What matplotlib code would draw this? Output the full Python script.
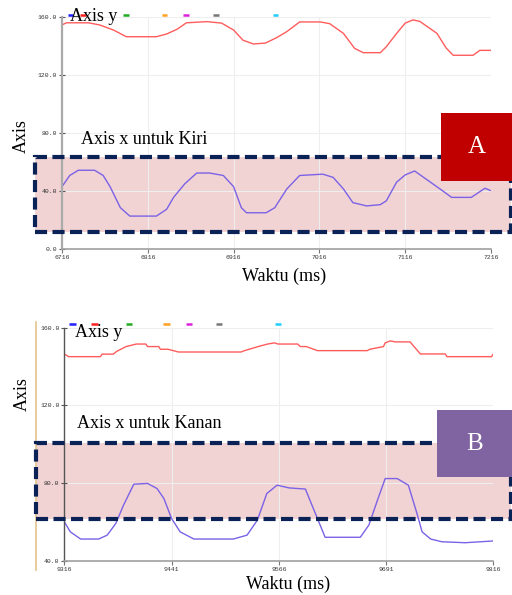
import matplotlib
matplotlib.use("Agg")
import matplotlib.pyplot as plt
from matplotlib.patches import Rectangle
from matplotlib.lines import Line2D

# ---------------- data ----------------
# Chart A (Kiri)
a_y_time = [6716, 6721, 6747, 6760, 6776, 6791, 6826, 6838, 6850, 6861, 6885, 6902, 6916,
            6927, 6939, 6953, 6966, 6978, 6993, 7017, 7028, 7044, 7057, 7067, 7087, 7094,
            7106, 7116, 7125, 7133, 7153, 7164, 7172, 7195, 7203, 7216]
a_y_val = [154.5, 156, 156, 154.5, 151, 146.4, 146.4, 148.3, 151.5, 156, 156.8, 155.8, 151,
           144, 141.4, 142, 145.7, 149.9, 156.6, 156.6, 155.4, 148.7, 138.4, 135.4, 135.4, 139.5,
           148.7, 155.8, 158, 157, 148.7, 138.4, 133.6, 133.6, 137, 137]
a_x_time = [6716, 6725, 6735, 6754, 6764, 6772, 6784, 6795, 6826, 6838, 6846, 6859, 6873, 6888,
            6904, 6916, 6925, 6931, 6954, 6964, 6978, 6993, 7020, 7032, 7044, 7055, 7071, 7087,
            7094, 7106, 7116, 7127, 7148, 7159, 7170, 7193, 7209, 7215]
a_x_val = [43, 50.7, 54.3, 54.3, 50.7, 43, 28.5, 22.7, 22.7, 27.4, 35.6, 44.9, 52.4, 52.4,
           50.7, 43, 28.5, 25, 25, 28.5, 41.4, 50.7, 51.6, 49.4, 41.4, 32, 29.7, 30.6,
           33.2, 46.1, 51.1, 53.8, 45, 40.4, 35.6, 35.6, 41.9, 40.4]
a_xticks = [6716, 6816, 6916, 7016, 7116, 7216]
a_yticks = [0, 40, 80, 120, 160]

# Chart B (Kanan)
b_y_time = [9316, 9321, 9358, 9360, 9373, 9377, 9388, 9400, 9411, 9413, 9426, 9428, 9437, 9449,
            9522, 9526, 9542, 9553, 9561, 9565, 9588, 9591, 9598, 9611, 9669, 9672, 9688,
            9690, 9696, 9702, 9719, 9731, 9760, 9762, 9814, 9816]
b_y_val = [146.5, 145.1, 145.1, 146.4, 146.4, 147.8, 150.3, 151.6, 151.6, 150.3, 150.3, 148.9,
           148.9, 147.5, 147.5, 148.2, 150.3, 151.6, 152.2, 151.6, 151.6, 150.3, 150.3, 148.2,
           148.2, 148.9, 150.3, 152.2, 153.2, 152.7, 152.7, 146.5, 146.5, 145.1, 145.1, 146.5]
b_x_time = [9316, 9323, 9335, 9356, 9366, 9376, 9385, 9397, 9413, 9424, 9432, 9441, 9451, 9467,
            9513, 9529, 9541, 9552, 9564, 9578, 9597, 9607, 9620, 9661, 9671, 9681, 9690,
            9704, 9717, 9727, 9733, 9743, 9756, 9783, 9816]
b_x_val = [60.2, 55, 51.3, 51.3, 53.3, 59.3, 68.7, 79.5, 79.9, 77.3, 72.2, 61.9, 55, 51.3,
           51.3, 53.3, 61, 74.7, 79, 77.6, 77, 66.2, 52.2, 52.2, 58.5, 71.3, 82.4,
           82.4, 79, 64.5, 55, 51.3, 49.9, 49.4, 50.3]
b_xticks = [9316, 9441, 9566, 9691, 9816]
b_yticks = [40, 80, 120, 160]

legend_colors = ["#1f1fff", "#ff2020", "#22aa22", "#ffa020", "#dd22dd", "#777777", "#22ccff"]

# ---------------- layout helpers ----------------
W, H = 512, 595
fig = plt.figure(figsize=(W / 100, H / 100), dpi=100)
fig.patch.set_facecolor("white")


def fx(x):
    return x / W


def fy(y):
    return 1 - y / H


SERIF = ["Liberation Serif", "DejaVu Serif"]
MONO = ["Liberation Mono", "DejaVu Sans Mono"]
RED = "#ff5c5c"
PURPLE = "#7b62e6"
NAVY = "#0b2257"
PINK = "#f1d3d3"


def make_axes(left, right, top, bottom, xlim, ylim, xticks, yticks, lspine_color, lspine_w):
    ax = fig.add_axes([fx(left), fy(bottom), (right - left) / W, (bottom - top) / H])
    ax.set_facecolor("none")
    ax.set_xlim(*xlim)
    ax.set_ylim(*ylim)
    ax.set_xticks(xticks)
    ax.set_yticks(yticks)
    ax.set_xticklabels([str(t) for t in xticks], fontfamily=MONO, fontsize=4.6, color="#333333")
    ax.set_yticklabels([f"{t:.1f}" for t in yticks], fontfamily=MONO, fontsize=4.6, color="#333333")
    ax.tick_params(axis="x", length=3, width=0.8, color="#777777", pad=1.5)
    ax.tick_params(axis="y", length=4, width=0.8, color="#555555", pad=1.5, direction="inout")
    ax.grid(True, color="#eeeeee", linewidth=0.8)
    ax.set_axisbelow(True)
    for s in ["top", "right"]:
        ax.spines[s].set_visible(False)
    ax.spines["left"].set_color(lspine_color)
    ax.spines["left"].set_linewidth(lspine_w)
    ax.spines["bottom"].set_color("#a0a0a0")
    ax.spines["bottom"].set_linewidth(1.2)
    return ax


def add_box(x0, y0, x1, y1):
    fill = Rectangle((fx(x0), fy(y1)), (x1 - x0) / W, (y1 - y0) / H, transform=fig.transFigure,
                     facecolor=PINK, edgecolor="none", zorder=-1)
    fig.add_artist(fill)
    border = Rectangle((fx(x0), fy(y1)), (x1 - x0) / W, (y1 - y0) / H, transform=fig.transFigure,
                       facecolor="none", edgecolor=NAVY, linewidth=3, linestyle=(0, (2.9, 1.3)),
                       zorder=5)
    fig.add_artist(border)


def add_label_box(x0, y0, x1, y1, color, letter):
    r = Rectangle((fx(x0), fy(y1)), (x1 - x0) / W, (y1 - y0) / H, transform=fig.transFigure,
                  facecolor=color, edgecolor="none", zorder=6)
    fig.add_artist(r)
    fig.text(fx((x0 + x1) / 2), fy((y0 + y1) / 2), letter, color="white", fontsize=18,
             fontfamily=SERIF, ha="center", va="center", zorder=7)


def add_legend_marks(y, xs):
    for (x0, x1), c in zip(xs, legend_colors):
        fig.add_artist(Line2D([fx(x0), fx(x1)], [fy(y), fy(y)], transform=fig.transFigure,
                              color=c, linewidth=1.8, solid_capstyle="butt", zorder=3))


def ftext(x, y, s, **kw):
    kw.setdefault("fontsize", 13)
    kw.setdefault("fontfamily", SERIF)
    kw.setdefault("color", "black")
    fig.text(fx(x), fy(y), s, zorder=8, **kw)


# ---------------- chart A ----------------
add_box(35, 157, 510.5, 232)
axA = make_axes(62, 491, 17, 249, (6716, 7216), (0, 160), a_xticks, a_yticks, "#aaaaaa", 1.6)
axA.plot(a_y_time, a_y_val, color=RED, linewidth=1.0)
axA.plot(a_x_time, a_x_val, color=PURPLE, linewidth=1.0)
add_legend_marks(14.5, [(68, 73), (80, 86), (123, 129), (162, 167), (183, 189), (213, 219), (273, 278)])
ftext(70, 21, "Axis y", va="baseline")
ftext(81, 144, "Axis x untuk Kiri", va="baseline")
ftext(21, 136, "Axis", rotation=90, ha="center", va="center")
ftext(284, 276, "Waktu (ms)", ha="center", va="center")
add_label_box(441, 113, 512, 181, "#c00000", "A")

# ---------------- chart B ----------------
add_box(36, 443, 510.5, 519)
axB = make_axes(64.3, 493.3, 327.7, 561, (9316, 9816), (40, 160), b_xticks, b_yticks, "#555555", 1.0)
axB.plot(b_y_time, b_y_val, color=RED, linewidth=1.0)
axB.plot(b_x_time, b_x_val, color=PURPLE, linewidth=1.0)
add_legend_marks(324, [(69, 76), (91, 98), (126, 132), (163, 170), (186, 192), (216, 222), (275, 281)])
fig.add_artist(Line2D([fx(35.7), fx(35.7)], [fy(322), fy(570)], transform=fig.transFigure,
                      color="#e3c48e", linewidth=1.2, zorder=3))
ftext(75, 337, "Axis y", va="baseline")
ftext(77, 428, "Axis x untuk Kanan", va="baseline")
ftext(22, 394, "Axis", rotation=90, ha="center", va="center")
ftext(288, 584, "Waktu (ms)", ha="center", va="center")
add_label_box(437, 410, 512, 477, "#8064a2", "B")

fig.savefig("out.png", dpi=100)
